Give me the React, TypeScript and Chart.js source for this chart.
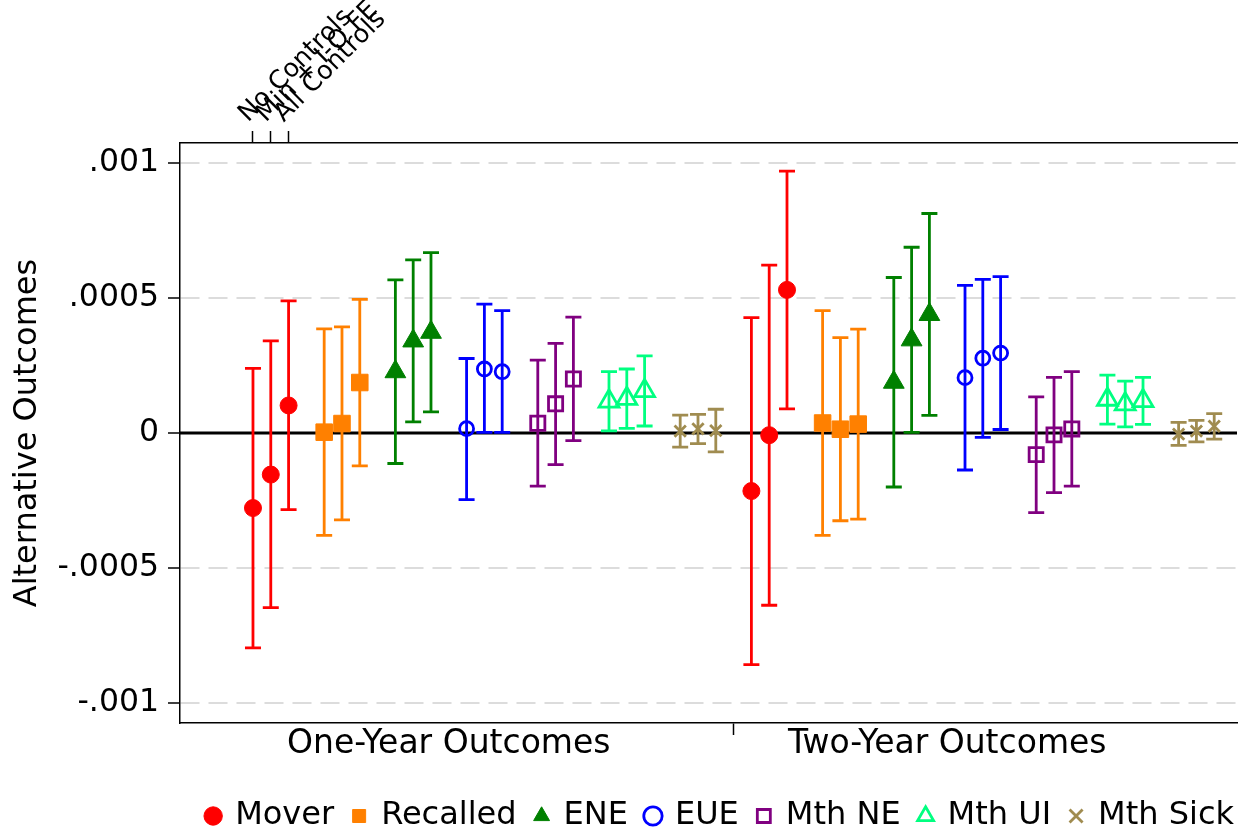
import React, { useEffect, useRef } from 'react';
import { Chart, registerables } from 'chart.js';

Chart.register(...registerables);

// ---------- data ----------
const horizons = ['One-Year Outcomes', 'Two-Year Outcomes'];
const specifications = ['No Controls', 'Min + I-O FE', 'All Controls'];
const seriesNames = ['Mover', 'Recalled', 'ENE', 'EUE', 'Mth NE', 'Mth UI', 'Mth Sick'];

// order: one-year (No Controls, Min + I-O FE, All Controls), two-year (same)
const moverEst = [-2.78e-4, -1.54e-4, 1.02e-4, -2.15e-4, -0.08e-4, 5.30e-4];
const moverLo = [-7.96e-4, -6.47e-4, -2.84e-4, -8.58e-4, -6.38e-4, 0.89e-4];
const moverHi = [2.39e-4, 3.41e-4, 4.89e-4, 4.27e-4, 6.22e-4, 9.70e-4];

const recalledEst = [0.03e-4, 0.35e-4, 1.87e-4, 0.37e-4, 0.14e-4, 0.33e-4];
const recalledLo = [-3.79e-4, -3.22e-4, -1.22e-4, -3.79e-4, -3.25e-4, -3.19e-4];
const recalledHi = [3.86e-4, 3.93e-4, 4.95e-4, 4.53e-4, 3.53e-4, 3.85e-4];

const eneEst = [2.27e-4, 3.41e-4, 3.73e-4, 1.88e-4, 3.45e-4, 4.39e-4];
const eneLo = [-1.13e-4, 0.41e-4, 0.78e-4, -2.0e-4, 0.02e-4, 0.65e-4];
const eneHi = [5.67e-4, 6.41e-4, 6.68e-4, 5.76e-4, 6.88e-4, 8.13e-4];

const eueEst = [0.16e-4, 2.37e-4, 2.27e-4, 2.05e-4, 2.77e-4, 2.96e-4];
const eueLo = [-2.47e-4, 0.02e-4, 0.02e-4, -1.37e-4, -0.16e-4, 0.13e-4];
const eueHi = [2.76e-4, 4.77e-4, 4.53e-4, 5.47e-4, 5.69e-4, 5.79e-4];

const mthNeEst = [0.36e-4, 1.08e-4, 2.0e-4, -0.80e-4, -0.07e-4, 0.15e-4];
const mthNeLo = [-1.97e-4, -1.17e-4, -0.28e-4, -2.95e-4, -2.21e-4, -1.97e-4];
const mthNeHi = [2.70e-4, 3.32e-4, 4.29e-4, 1.34e-4, 2.06e-4, 2.27e-4];

const mthUiEst = [1.17e-4, 1.27e-4, 1.56e-4, 1.24e-4, 1.07e-4, 1.19e-4];
const mthUiLo = [0.08e-4, 0.17e-4, 0.26e-4, 0.33e-4, 0.23e-4, 0.32e-4];
const mthUiHi = [2.27e-4, 2.37e-4, 2.86e-4, 2.14e-4, 1.92e-4, 2.06e-4];

const mthSickEst = [0.07e-4, 0.15e-4, 0.09e-4, -0.04e-4, 0.07e-4, 0.25e-4];
const mthSickLo = [-0.52e-4, -0.39e-4, -0.70e-4, -0.46e-4, -0.33e-4, -0.23e-4];
const mthSickHi = [0.66e-4, 0.69e-4, 0.88e-4, 0.39e-4, 0.47e-4, 0.72e-4];

const estimates = [moverEst, recalledEst, eneEst, eueEst, mthNeEst, mthUiEst, mthSickEst];
const lowers = [moverLo, recalledLo, eneLo, eueLo, mthNeLo, mthUiLo, mthSickLo];
const uppers = [moverHi, recalledHi, eneHi, eueHi, mthNeHi, mthUiHi, mthSickHi];

const yTickValues = [-0.001, -0.0005, 0, 0.0005, 0.001];
const yTickLabels = ['-.001', '-.0005', '0', '.0005', '.001'];

// ---------- layout of the categorical x positions ----------
const FIRST_POS = 1;
const SPEC_STEP = 1;
const SERIES_STEP = 4;
const HORIZON_STEP = 28;
const HORIZON_LABEL_POS = [12, 40];
const DIVIDER_POS = 28;
const X_MIN = -3.1;
const X_MAX = 56.28;
const Y_LIM = 0.0010741;

// ---------- styles ----------
const FONT = 'DejaVu Sans';
const colors = ['#ff0000', '#ff8000', '#008000', '#0000ff', '#800080', '#00ff80', '#a08c50'];
const pointStyles = ['circle', 'rect', 'triangle', 'circle', 'rect', 'triangle', 'crossRot'];
const filled = [true, true, true, false, false, false, false];
const radii = [8.5, 11.7, 12, 7, 10, 11.5, 8];
const CAP = 8;
const BAR_WIDTH = 2.8;

const errorBarPlugin = {
  id: 'errorBars',
  beforeDatasetsDraw(chart: any) {
    const { ctx, chartArea, scales } = chart;
    const xs = scales.x;
    const ys = scales.y;
    ctx.save();
    const y0 = ys.getPixelForValue(0);
    ctx.strokeStyle = '#000';
    ctx.lineWidth = 3;
    ctx.beginPath();
    ctx.moveTo(chartArea.left, y0);
    ctx.lineTo(chartArea.right, y0);
    ctx.stroke();
    chart.data.datasets.forEach((ds: any) => {
      ctx.strokeStyle = ds.borderColor;
      ctx.lineWidth = BAR_WIDTH;
      ds.data.forEach((pt: any, j: number) => {
        const x = xs.getPixelForValue(pt.x);
        const yl = ys.getPixelForValue(ds.errLo[j]);
        const yh = ys.getPixelForValue(ds.errHi[j]);
        ctx.beginPath();
        ctx.moveTo(x, yl);
        ctx.lineTo(x, yh);
        ctx.moveTo(x - CAP, yl);
        ctx.lineTo(x + CAP, yl);
        ctx.moveTo(x - CAP, yh);
        ctx.lineTo(x + CAP, yh);
        ctx.stroke();
      });
    });
    ctx.restore();
  },
};

const LEG_DX = 16;
const LEG_DY = 11;
const legendNudge = {
  id: 'legendNudge',
  afterLayout(chart: any) {
    const lg = chart.legend;
    if (!lg) return;
    lg.left += LEG_DX;
    lg.right += LEG_DX;
    lg.top += LEG_DY;
    lg.bottom += LEG_DY;
  },
};

export default function App() {
  const ref = useRef<HTMLCanvasElement | null>(null);

  useEffect(() => {
    if (!ref.current) return;
    const datasets = seriesNames.map((name, s) => ({
      label: name,
      data: estimates[s].map((v, j) => ({
        x: FIRST_POS + HORIZON_STEP * Math.floor(j / 3) + SERIES_STEP * s + SPEC_STEP * (j % 3),
        y: v,
      })),
      errLo: lowers[s],
      errHi: uppers[s],
      showLine: false,
      borderColor: colors[s],
      backgroundColor: filled[s] ? colors[s] : 'rgba(255,255,255,0)',
      pointStyle: pointStyles[s],
      pointRadius: radii[s],
      pointHoverRadius: radii[s],
      pointBorderColor: colors[s],
      pointBackgroundColor: filled[s] ? colors[s] : 'rgba(255,255,255,0)',
      pointBorderWidth: filled[s] ? 1 : BAR_WIDTH,
    }));

    const chart = new Chart(ref.current, {
      type: 'scatter',
      data: { datasets } as any,
      plugins: [errorBarPlugin, legendNudge],
      options: {
        animation: false,
        responsive: true,
        maintainAspectRatio: false,
        events: [],
        layout: { autoPadding: false, padding: { left: 0, right: 6, top: 0, bottom: 0 } },
        plugins: {
          tooltip: { enabled: false },
          title: { display: false },
          legend: {
            display: true,
            position: 'bottom',
            align: 'end',
            labels: {
              usePointStyle: true,
              boxWidth: 12,
              boxHeight: 13,
              padding: 19,
              color: '#000',
              font: { family: FONT, size: 32 },
            },
          },
        },
        scales: {
          x: {
            type: 'linear',
            position: 'bottom',
            min: X_MIN,
            max: X_MAX,
            afterBuildTicks: (s: any) => {
              s.ticks = [
                { value: HORIZON_LABEL_POS[0] },
                { value: DIVIDER_POS },
                { value: HORIZON_LABEL_POS[1] },
              ];
            },
            afterFit: (s: any) => {
              s.height = 47;
              s.paddingLeft = 0;
              s.paddingRight = 0;
            },
            ticks: {
              autoSkip: false,
              minRotation: 0,
              maxRotation: 0,
              padding: -10,
              color: '#000',
              font: { family: FONT, size: 33 },
              callback: (v: any) =>
                v === HORIZON_LABEL_POS[0] ? horizons[0] : v === HORIZON_LABEL_POS[1] ? horizons[1] : '',
            },
            grid: {
              drawOnChartArea: false,
              drawTicks: true,
              tickLength: 12,
              tickWidth: 1.5,
              tickColor: (c: any) => (c.tick && c.tick.value === DIVIDER_POS ? '#000' : 'rgba(0,0,0,0)'),
            },
            border: { display: true, color: '#000', width: 1.5 },
          },
          x2: {
            type: 'linear',
            position: 'top',
            min: X_MIN,
            max: X_MAX,
            afterBuildTicks: (s: any) => {
              s.ticks = specifications.map((_, k) => ({ value: FIRST_POS + SPEC_STEP * k }));
            },
            afterFit: (s: any) => {
              s.height = 143;
              s.paddingLeft = 0;
              s.paddingRight = 0;
            },
            ticks: {
              autoSkip: false,
              minRotation: 45,
              maxRotation: 45,
              padding: 2,
              labelOffset: 12,
              color: '#000',
              font: { family: FONT, size: 25.5 },
              callback: (_v: any, i: number) => specifications[i],
            },
            grid: {
              drawOnChartArea: false,
              drawTicks: true,
              tickLength: 12,
              tickWidth: 1.5,
              tickColor: '#000',
            },
            border: { display: true, color: '#000', width: 1.5 },
          },
          y: {
            type: 'linear',
            min: -Y_LIM,
            max: Y_LIM,
            afterBuildTicks: (s: any) => {
              s.ticks = yTickValues.map((v) => ({ value: v }));
            },
            afterFit: (s: any) => {
              s.width = 180;
              s.paddingTop = 0;
              s.paddingBottom = 0;
            },
            ticks: {
              padding: 9,
              color: '#000',
              font: { family: FONT, size: 31.5 },
              callback: (_v: any, i: number) => yTickLabels[i],
            },
            grid: {
              drawTicks: true,
              tickLength: 12,
              tickWidth: 1.5,
              tickColor: '#000',
              lineWidth: 2,
              color: (c: any) => (c.tick && c.tick.value === 0 ? 'rgba(0,0,0,0)' : '#dcdcdc'),
            },
            border: { display: true, color: '#000', width: 1.5, dash: [19, 9] },
            title: {
              display: true,
              text: 'Alternative Outcomes',
              color: '#000',
              font: { family: FONT, size: 32 },
              padding: { top: 8, bottom: 0 },
            },
          },
        },
      } as any,
    });
    return () => chart.destroy();
  }, []);

  return (
    <div style={{ position: 'fixed', left: 0, top: 0, width: 1243, height: 831, background: '#fff' }}>
      <canvas ref={ref} />
    </div>
  );
}
